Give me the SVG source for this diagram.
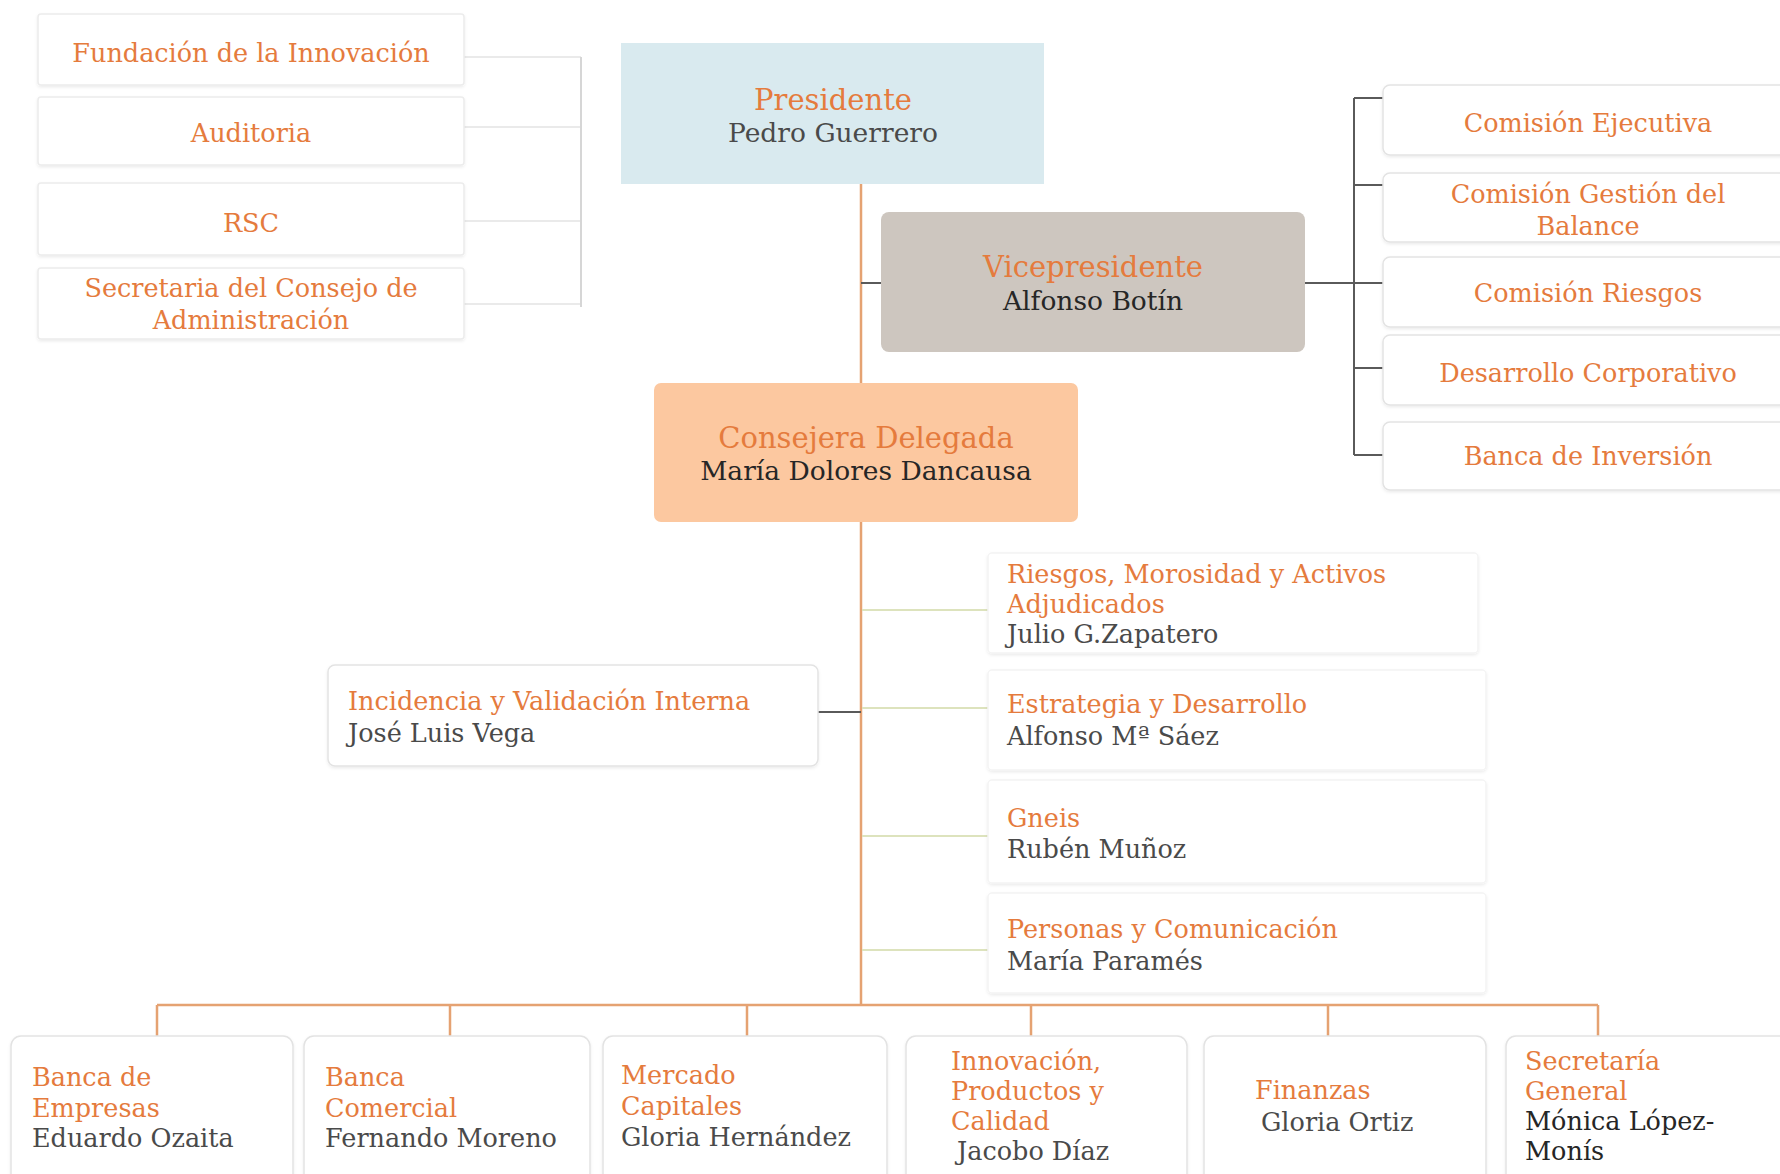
<svg xmlns="http://www.w3.org/2000/svg" width="1780" height="1174" viewBox="0 0 1780 1174">
  <defs>
    <filter id="soft" x="-5%" y="-10%" width="110%" height="130%">
      <feDropShadow dx="0" dy="1.5" stdDeviation="1.5" flood-color="#000" flood-opacity="0.08"/>
    </filter>
  </defs>
  <style>
    text { font-family: "DejaVu Serif", "Liberation Serif", serif; font-size: 25.5px; }
    .t { fill: #e57b3d; }
    .n { fill: #4a4a4a; }
    .d { fill: #262626; }
    .big { font-size: 29px; }
    .top { font-size: 26.5px; }
    .mid { text-anchor: middle; }
    .box { fill: #ffffff; stroke: #e3e3e3; stroke-width: 1.5; filter: url(#soft); }
    .pale { fill: #ffffff; stroke: #ececec; stroke-width: 1.5; filter: url(#soft); }
    .faint { fill: #ffffff; stroke: #f4f4f4; stroke-width: 1.5; filter: url(#soft); }
    .main { stroke: #e5a272; stroke-width: 2.5; fill: none; }
    .dark { stroke: #5a5a5a; stroke-width: 2; fill: none; }
    .light { stroke: #e4e4e4; stroke-width: 1.5; fill: none; }
    .green { stroke: #dde3bd; stroke-width: 2; fill: none; }
  </style>

  <rect width="1780" height="1174" fill="#ffffff"/>

  <!-- connectors -->
  <g id="connectors">
    <!-- board committees on the left -->
    <path class="light" d="M464 57 H581 M464 127 H581 M464 221 H581 M464 304 H581"/>
    <path d="M581 57 V307" stroke="#d6d6d6" stroke-width="2" fill="none"/>
    <!-- main spine -->
    <path class="main" d="M861 184 V1005"/>
    <!-- vice-president and his committees -->
    <path class="dark" d="M861 283 H881"/>
    <path class="dark" d="M1305 283 H1383 M1354 98 V455 M1354 98 H1383 M1354 185 H1383 M1354 368 H1383 M1354 455 H1383"/>
    <!-- internal audit -->
    <path class="dark" d="M818 712 H861"/>
    <!-- direct areas -->
    <path class="green" d="M862 610 H988 M862 708 H988 M862 836 H988 M862 950 H988"/>
    <!-- business units -->
    <path class="main" d="M157 1005 H1598 M157 1005 V1036 M450 1005 V1036 M747 1005 V1036 M1031 1005 V1036 M1328 1005 V1036 M1598 1005 V1036"/>
  </g>

  <!-- left column -->
  <g id="fundacion">
    <rect class="pale" x="38" y="14" width="426" height="71" rx="3"/>
    <text class="t mid" x="251" y="62">Fundación de la Innovación</text>
  </g>
  <g id="auditoria">
    <rect class="pale" x="38" y="97" width="426" height="68" rx="3"/>
    <text class="t mid" x="251" y="142">Auditoria</text>
  </g>
  <g id="rsc">
    <rect class="pale" x="38" y="183" width="426" height="72" rx="3"/>
    <text class="t mid" x="251" y="232">RSC</text>
  </g>
  <g id="secretaria-consejo">
    <rect class="pale" x="38" y="268" width="426" height="71" rx="3"/>
    <text class="t mid" x="251" y="297">Secretaria del Consejo de</text>
    <text class="t mid" x="251" y="329">Administración</text>
  </g>

  <!-- top of the hierarchy -->
  <g id="presidente">
    <rect x="621" y="43" width="423" height="141" fill="#d9eaef"/>
    <text class="t mid big" x="833" y="110">Presidente</text>
    <text class="n mid top" x="833" y="142">Pedro Guerrero</text>
  </g>
  <g id="vicepresidente">
    <rect x="881" y="212" width="424" height="140" rx="8" fill="#cdc6bf"/>
    <text class="t mid big" x="1093" y="277">Vicepresidente</text>
    <text class="d mid top" x="1093" y="310">Alfonso Botín</text>
  </g>
  <g id="consejera">
    <rect x="654" y="383" width="424" height="139" rx="7" fill="#fcc8a0"/>
    <text class="t mid big" x="866" y="448">Consejera Delegada</text>
    <text class="d mid top" x="866" y="480">María Dolores Dancausa</text>
  </g>

  <!-- committees -->
  <g id="comision-ejecutiva">
    <rect class="box" x="1383" y="85" width="420" height="70" rx="7"/>
    <text class="t mid" x="1588" y="132">Comisión Ejecutiva</text>
  </g>
  <g id="comision-balance">
    <rect class="box" x="1383" y="173" width="420" height="69" rx="7"/>
    <text class="t mid" x="1588" y="203">Comisión Gestión del</text>
    <text class="t mid" x="1588" y="235">Balance</text>
  </g>
  <g id="comision-riesgos">
    <rect class="box" x="1383" y="257" width="420" height="70" rx="7"/>
    <text class="t mid" x="1588" y="302">Comisión Riesgos</text>
  </g>
  <g id="desarrollo-corporativo">
    <rect class="box" x="1383" y="335" width="420" height="70" rx="7"/>
    <text class="t mid" x="1588" y="382">Desarrollo Corporativo</text>
  </g>
  <g id="banca-inversion">
    <rect class="box" x="1383" y="422" width="420" height="68" rx="7"/>
    <text class="t mid" x="1588" y="465">Banca de Inversión</text>
  </g>

  <!-- internal validation -->
  <g id="incidencia">
    <rect class="box" x="328" y="665" width="490" height="101" rx="7"/>
    <text class="t" x="348" y="710">Incidencia y Validación Interna</text>
    <text class="n" x="348" y="742">José Luis Vega</text>
  </g>

  <!-- areas reporting to the CEO -->
  <g id="riesgos">
    <rect class="faint" x="988" y="553" width="490" height="100" rx="4"/>
    <text class="t" x="1007" y="583">Riesgos, Morosidad y Activos</text>
    <text class="t" x="1007" y="613">Adjudicados</text>
    <text class="n" x="1007" y="643">Julio G.Zapatero</text>
  </g>
  <g id="estrategia">
    <rect class="faint" x="988" y="670" width="498" height="100" rx="4"/>
    <text class="t" x="1007" y="713">Estrategia y Desarrollo</text>
    <text class="n" x="1007" y="745">Alfonso Mª Sáez</text>
  </g>
  <g id="gneis">
    <rect class="faint" x="988" y="780" width="498" height="103" rx="4"/>
    <text class="t" x="1007" y="827">Gneis</text>
    <text class="n" x="1007" y="858">Rubén Muñoz</text>
  </g>
  <g id="personas">
    <rect class="faint" x="988" y="893" width="498" height="100" rx="4"/>
    <text class="t" x="1007" y="938">Personas y Comunicación</text>
    <text class="n" x="1007" y="970">María Paramés</text>
  </g>

  <!-- business units -->
  <g id="banca-empresas">
    <rect class="box" x="11" y="1036" width="282" height="160" rx="10"/>
    <text class="t" x="32" y="1086">Banca de</text>
    <text class="t" x="32" y="1117">Empresas</text>
    <text class="n" x="32" y="1147">Eduardo Ozaita</text>
  </g>
  <g id="banca-comercial">
    <rect class="box" x="304" y="1036" width="286" height="160" rx="10"/>
    <text class="t" x="325" y="1086">Banca</text>
    <text class="t" x="325" y="1117">Comercial</text>
    <text class="n" x="325" y="1147">Fernando Moreno</text>
  </g>
  <g id="mercado-capitales">
    <rect class="box" x="603" y="1036" width="284" height="160" rx="10"/>
    <text class="t" x="621" y="1084">Mercado</text>
    <text class="t" x="621" y="1115">Capitales</text>
    <text class="n" x="621" y="1146">Gloria Hernández</text>
  </g>
  <g id="innovacion">
    <rect class="box" x="906" y="1036" width="281" height="160" rx="10"/>
    <text class="t" x="951" y="1070">Innovación,</text>
    <text class="t" x="951" y="1100">Productos y</text>
    <text class="t" x="951" y="1130">Calidad</text>
    <text class="n" x="957" y="1160">Jacobo Díaz</text>
  </g>
  <g id="finanzas">
    <rect class="box" x="1204" y="1036" width="282" height="160" rx="10"/>
    <text class="t" x="1255" y="1099">Finanzas</text>
    <text class="n" x="1261" y="1131">Gloria Ortiz</text>
  </g>
  <g id="secretaria-general">
    <rect class="box" x="1506" y="1036" width="300" height="160" rx="10"/>
    <text class="t" x="1525" y="1070">Secretaría</text>
    <text class="t" x="1525" y="1100">General</text>
    <text class="d" x="1525" y="1130">Mónica López-</text>
    <text class="d" x="1525" y="1160">Monís</text>
  </g>
</svg>
